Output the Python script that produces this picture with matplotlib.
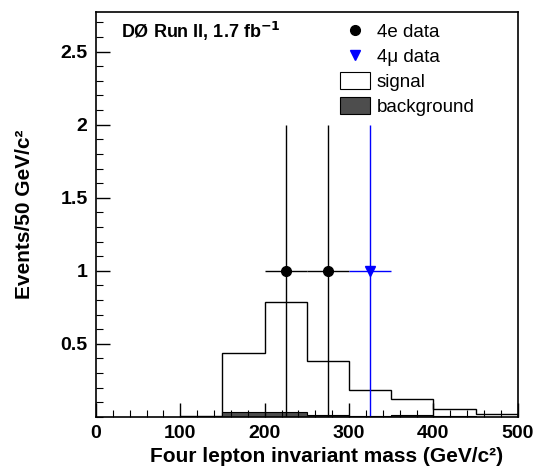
import numpy as np
import matplotlib
matplotlib.use('Agg')
import matplotlib.pyplot as plt
from matplotlib.patches import Patch
from matplotlib.lines import Line2D
from matplotlib.ticker import MultipleLocator

plt.rcParams['font.family'] = ['Liberation Sans', 'DejaVu Sans']

# histogram bins (GeV/c^2)
bin_edges = [100, 150, 200, 250, 300, 350, 400, 450, 500]
signal = [0.003, 0.437, 0.786, 0.382, 0.184, 0.12, 0.051, 0.022]
background = [0.002, 0.036, 0.036, 0.015, 0.003, 0.015, 0.003, 0.001]

# data points
e4_mass = [225, 275]
e4_events = [1, 1]
mu4_mass = [325]
mu4_events = [1]
bin_half = 25
e4_err = [[1, 1], [1, 1]]
mu4_err = [[1], [1]]

fig = plt.figure(figsize=(5.36, 4.7), dpi=100)
ax = fig.add_axes([0.179, 0.113, 0.787, 0.861])

ax.stairs(signal, bin_edges, color='black', lw=1.0, baseline=0)
ax.stairs(background, bin_edges, fill=True, color='#4d4d4d', baseline=0)
ax.stairs(background, bin_edges, color='black', lw=0.8, baseline=0)

ax.errorbar(e4_mass, e4_events, xerr=bin_half, yerr=e4_err,
            fmt='o', color='black', ms=7, lw=1.0, capsize=0)
ax.errorbar(mu4_mass, mu4_events, xerr=bin_half, yerr=mu4_err,
            fmt='v', color='blue', ms=7, lw=1.0, capsize=0)

ax.set_xlim(0, 500)
ax.set_ylim(0, 2.77)
ax.xaxis.set_major_locator(MultipleLocator(100))
ax.xaxis.set_minor_locator(MultipleLocator(20))
ax.set_yticks([0.5, 1, 1.5, 2, 2.5])
ax.set_yticklabels(['0.5', '1', '1.5', '2', '2.5'])
ax.yaxis.set_minor_locator(MultipleLocator(0.1))
ax.tick_params(which='both', direction='in', top=False, right=False)
ax.tick_params(which='major', length=10, width=1.0, labelsize=14, pad=6)
ax.tick_params(which='minor', length=5, width=0.8)
for lab in ax.get_xticklabels() + ax.get_yticklabels():
    lab.set_fontweight('bold')
for s in ax.spines.values():
    s.set_linewidth(1.2)

ax.set_xlabel('Four lepton invariant mass (GeV/c²)', fontsize=15,
              fontweight='bold', ha='right')
ax.xaxis.set_label_coords(0.965, -0.074)
ax.set_ylabel('Events/50 GeV/c²', fontsize=15, fontweight='bold', labelpad=19)

ax.text(0.06, 0.982, 'DØ Run II, 1.7 fb$^{\\mathbf{-1}}$', transform=ax.transAxes,
        fontsize=13, fontweight='bold', va='top')

handles = [
    Line2D([], [], marker='o', color='black', ls='none', ms=7),
    Line2D([], [], marker='v', color='blue', ls='none', ms=7),
    Patch(facecolor='white', edgecolor='black', lw=0.8),
    Patch(facecolor='#4d4d4d', edgecolor='black', lw=0.8),
]
labels = ['4e data', '4μ data', 'signal', 'background']
ax.legend(handles, labels, loc='upper left', bbox_to_anchor=(0.539, 1.017),
          frameon=False, fontsize=13.5, handlelength=1.6, handleheight=1.0,
          labelspacing=0.33, handletextpad=0.35)

fig.savefig('out.png', dpi=100)
